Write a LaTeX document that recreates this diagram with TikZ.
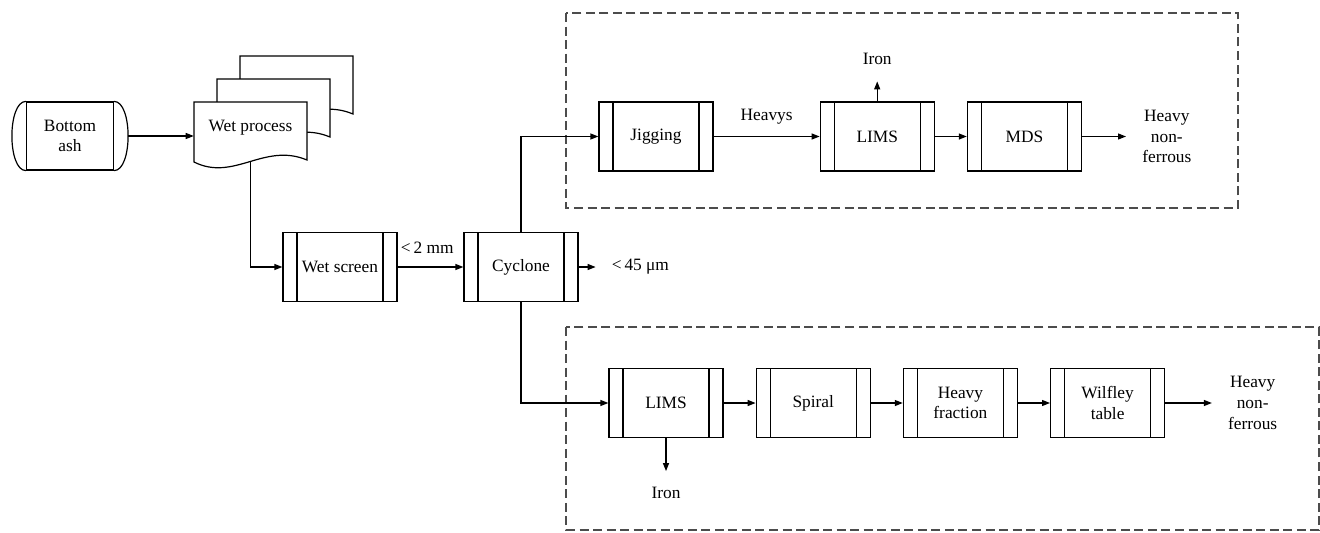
\documentclass[tikz,border=0pt]{standalone}
\usepackage{fontspec}
\setmainfont{Liberation Serif}
\usetikzlibrary{arrows.meta, positioning}

\tikzstyle{arr} = [line width=0.9pt, ->]

\begin{document}
\begin{tikzpicture}[
        x=0.75pt, y=-0.75pt,
        >={Triangle[length=6pt,width=4.5pt]},
        proc/.style={
            draw,
            line width=0.9pt,
            minimum width=85.5pt,
            minimum height=51.75pt,
            inner sep=2pt,
            align=center,
            path picture={
                \draw[line width=0.9pt] ([xshift=10.5pt]path picture bounding box.north west) -- ([xshift=10.5pt]path picture bounding box.south west);
                \draw[line width=0.9pt] ([xshift=-10.5pt]path picture bounding box.north east) -- ([xshift=-10.5pt]path picture bounding box.south east);
            }
        },
        term/.style={
            draw,
            line width=0.9pt,
            minimum width=65.25pt,
            minimum height=51pt,
            align=center
        },
        outlbl/.style={inner xsep=12pt, align=center},
        ironlbl/.style={inner ysep=12pt},
        grp/.style={draw=black!70, line width=0.9pt, dash pattern=on 6.75pt off 3.4pt},
        docline/.style={draw, fill=white, line width=0.9pt},
        every node/.style={font=\fontsize{13}{15.5}\selectfont}
    ]
    \useasboundingbox (0,0) rectangle (1320,532);

    % dashed groups
    \draw[grp] (566,13) rectangle (1238,208);
    \draw[grp] (566,327) rectangle (1319,530);

    % stacked documents
    \foreach \d in {46,23,0}
        \draw[docline, shift={(\d,-\d)}] (194,102) -- (307,102) -- (307,160)
            .. controls (264,142) and (234,182) .. (194,162) -- cycle;

    \node[term] (ash) at (70,136) {Bottom\\ash};
    \draw[line width=0.9pt] (ash.north west) .. controls +(-14pt,0pt) and +(-14pt,0pt) .. (ash.south west);
    \draw[line width=0.9pt] (ash.north east) .. controls +(14pt,0pt) and +(14pt,0pt) .. (ash.south east);

    \node[minimum width=84.75pt, minimum height=49.5pt] (wet) at (250.5,128) {Wet process};
    \node[proc] (screen) at (340,267) {Wet screen};
    \node[proc] (cyclone) at (521,267) {Cyclone};
    \node[outlbl, right=12.75pt of cyclone] (fines) {<\,45 μm};

    % upper line
    \node[proc] (jig) at (656,136.5) {Jigging};
    \node[proc, right=79.5pt of jig] (limsA) {LIMS};
    \node[proc, right=24pt of limsA] (mds) {MDS};
    \node[outlbl, right=33pt of mds] (heavyA) {Heavy\\non-\\ferrous};
    \node[ironlbl, above=15pt of limsA] (ironA) {Iron};

    % lower line
    \node[proc] (limsB) at (666,403) {LIMS};
    \node[proc, right=24pt of limsB] (spiral) {Spiral};
    \node[proc, right=24pt of spiral] (heavyfr) {Heavy\\fraction};
    \node[proc, right=24pt of heavyfr] (wilfley) {Wilfley\\table};
    \node[outlbl, right=35pt of wilfley] (heavyB) {Heavy\\non-\\ferrous};
    \node[ironlbl, below=24.75pt of limsB] (ironB) {Iron};

    \draw[arr] ([xshift=10.5pt]ash.east) -- (ash.east -| wet.west);
    \draw[arr] (wet.south) |- (screen.west);
    \draw[arr] (screen) -- node[pos=0, anchor=south west, inner sep=2pt, yshift=8pt] {<\,2 mm} (cyclone);
    \draw[arr] (cyclone) -- (fines);
    \draw[arr] (cyclone.north) |- (jig.west);
    \draw[arr] (cyclone.south) |- (limsB.west);

    \draw[arr] (jig) -- node[above=5.5pt] {Heavys} (limsA);
    \draw[arr] (limsA) -- (ironA);
    \draw[arr] (limsA) -- (mds);
    \draw[arr] (mds) -- (heavyA);

    \draw[arr] (limsB) -- (ironB);
    \draw[arr] (limsB) -- (spiral);
    \draw[arr] (spiral) -- (heavyfr);
    \draw[arr] (heavyfr) -- (wilfley);
    \draw[arr] (wilfley) -- (heavyB);
\end{tikzpicture}
\end{document}
